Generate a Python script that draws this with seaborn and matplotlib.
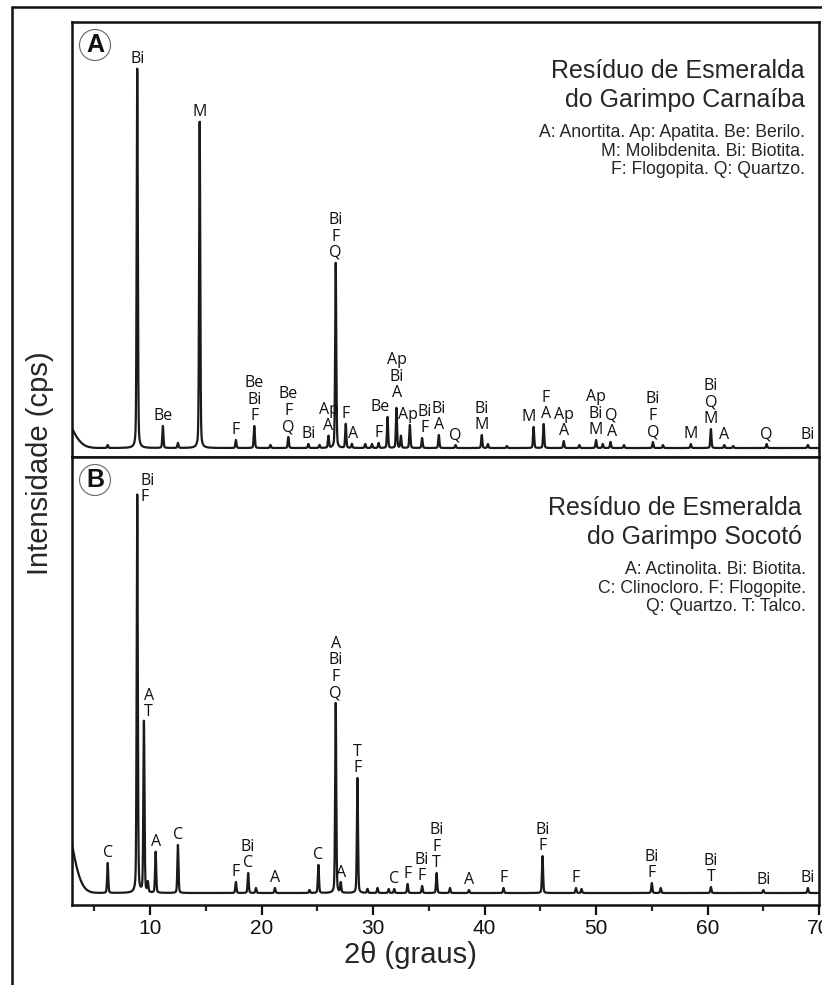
import numpy as np
import pandas as pd
import seaborn as sns
import matplotlib.pyplot as plt
from matplotlib.lines import Line2D
from matplotlib.ticker import MultipleLocator

# Resíduo do Garimpo Carnaíba (A): posição 2θ, altura do pico, fase
pos_a = [6.2, 8.85, 11.15, 12.5, 14.45, 17.7, 19.35, 20.8, 22.4, 24.2, 25.2, 26.0,
         26.65, 27.55, 28.1, 29.3, 29.9, 30.5, 31.3, 32.1, 32.5, 33.3, 34.4, 35.9,
         37.4, 39.75, 40.3, 42.0, 44.4, 45.3, 47.1, 48.5, 50.0, 50.6, 51.3, 52.5,
         55.1, 56.0, 58.5, 60.3, 61.5, 62.3, 65.3, 69.0]
alt_a = [3, 379, 22, 5, 326, 8, 22, 3, 11, 4, 3, 12,
         185, 24, 4, 4, 4, 5, 31, 40, 12, 23, 10, 13,
         3, 13, 4, 2, 21, 24, 7, 3, 8, 4, 6, 3,
         6, 3, 4, 19, 3, 2, 4, 3]
rot_a = ['', 'Bi', 'Be', '', 'M', 'F', 'Be\nBi\nF', '', 'Be\nF\nQ', 'Bi', '', 'Ap\nA',
         'Bi\nF\nQ', 'F', 'A', '', '', 'F', 'Be', 'Ap\nBi\nA', '', 'Ap', 'Bi\nF', 'Bi\nA',
         'Q', 'Bi\nM', '', '', 'M', 'F\nA', 'Ap\nA', '', 'Ap\nBi\nM', '', 'Q\nA', '',
         'Bi\nF\nQ', '', 'M', 'Bi\nQ\nM', 'A', '', 'Q', 'Bi']
fundo_a = [2.0, 34, 0.95]   # espalhamento em baixo ângulo: centro, altura, largura

# Resíduo do Garimpo Socotó (B)
pos_b = [6.2, 8.85, 9.45, 9.8, 10.5, 12.5, 17.7, 18.8, 19.5, 21.2, 24.3, 25.1,
         26.65, 27.1, 28.6, 29.5, 30.4, 31.4, 31.9, 33.1, 34.4, 35.7, 36.9, 38.6,
         41.7, 45.2, 48.2, 48.7, 55.0, 55.8, 60.3, 65.0, 69.0]
alt_b = [30, 398, 171, 10, 41, 48, 11, 20, 5, 5, 3, 28,
         190, 10, 115, 4, 5, 4, 4, 9, 7, 20, 5, 3,
         5, 37, 5, 4, 10, 5, 6, 3, 5]
rot_b = ['C', 'Bi\nF', 'A\nT', '', 'A', 'C', 'F', 'Bi\nC', '', 'A', '', 'C',
         'A\nBi\nF\nQ', 'A', 'T\nF', '', '', '', 'C', 'F', 'Bi\nF', 'Bi\nF\nT', '', 'A',
         'F', 'Bi\nF', 'F', '', 'Bi\nF', '', 'Bi\nT', 'Bi', 'Bi']
fundo_b = [2.0, 90, 0.9]

titulo_a = 'Resíduo de Esmeralda\ndo Garimpo Carnaíba'
legenda_a = 'A: Anortita. Ap: Apatita. Be: Berilo.\nM: Molibdenita. Bi: Biotita.\nF: Flogopita. Q: Quartzo.'
titulo_b = 'Resíduo de Esmeralda\ndo Garimpo Socotó'
legenda_b = 'A: Actinolita. Bi: Biotita.\nC: Clinocloro. F: Flogopite.\nQ: Quartzo. T: Talco.'

x = np.arange(3, 70.0001, 0.005)


def difratograma(pos, alt, fundo, fwhm=0.12, eta=0.3):
    h = fwhm / 2
    s = fwhm / 2.3548
    y = fundo[1] * np.exp(-(x - fundo[0]) ** 2 / (2 * fundo[2] ** 2))
    for p, a in zip(pos, alt):
        lor = 1 / (1 + ((x - p) / h) ** 2)
        gau = np.exp(-(x - p) ** 2 / (2 * s ** 2))
        y = y + a * (eta * lor + (1 - eta) * gau)
    return pd.DataFrame({'2theta': x, 'I': y})


sns.set_theme(style='white')
plt.rcParams['font.family'] = ['Liberation Sans', 'DejaVu Sans']

fig = plt.figure(figsize=(8.22, 9.85), dpi=100)
ax_a = fig.add_axes([0.0876, 0.536, 0.9088, 0.442])
ax_b = fig.add_axes([0.0876, 0.0812, 0.9088, 0.4548])

# moldura externa
fig.add_artist(Line2D([0.015, 0.015], [0, 0.9932], color='#111', lw=1.8))
fig.add_artist(Line2D([0.015, 1.0], [0.9932, 0.9932], color='#111', lw=1.8))

paineis = [(ax_a, pos_a, alt_a, rot_a, fundo_a, (-9, 426)),
           (ax_b, pos_b, alt_b, rot_b, fundo_b, (-12, 436))]
# deslocamentos dos rótulos (dx em graus, dy em cps, alinhamento)
ajuste = {('B', 1): (0.3, -12, 'left'), ('B', 2): (0.0, 0, 'left'),
          ('A', 18): (-0.7, 0, 'center'), ('A', 14): (0.1, 0, 'center'),
          ('A', 19): (0.05, 5, 'center'), ('A', 21): (-0.2, 0, 'center'),
          ('A', 22): (0.25, 0, 'center'), ('A', 28): (-0.45, 0, 'center'),
          ('A', 29): (0.2, 0, 'center'), ('A', 34): (0.1, 0, 'center')}

for nome, (ax, pos, alt, rot, fundo, lim) in zip('AB', paineis):
    df = difratograma(pos, alt, fundo)
    sns.lineplot(data=df, x='2theta', y='I', ax=ax, color='#1a1a1a', lw=1.6,
                 estimator=None, errorbar=None)
    for i, (p, a, r) in enumerate(zip(pos, alt, rot)):
        if not r:
            continue
        dx, dy, ha = ajuste.get((nome, i), (0, 0, 'center'))
        ax.text(p + dx, a + 2 + dy, r, ha=ha, va='bottom', fontsize=11.5,
                family='Open Sans', linespacing=1.03, color='#111')
    ax.set_xlim(3, 70)
    ax.set_ylim(*lim)
    ax.set_yticks([])
    ax.set_xlabel('')
    ax.set_ylabel('')
    for sp in ax.spines.values():
        sp.set_visible(True)
        sp.set_color('#111')
        sp.set_linewidth(1.8)

ax_a.tick_params(axis='x', bottom=False, labelbottom=False)
ax_b.xaxis.set_major_locator(MultipleLocator(10))
ax_b.xaxis.set_minor_locator(MultipleLocator(5))
ax_b.tick_params(axis='x', which='major', bottom=True, direction='out', length=7,
                 width=1.6, labelsize=15, pad=3, colors='#111')
ax_b.tick_params(axis='x', which='minor', bottom=True, direction='out', length=4,
                 width=1.6)

fig.text(0.979, 0.9132, titulo_a, ha='right', va='center', fontsize=18,
         linespacing=1.28, multialignment='right')
fig.text(0.979, 0.8467, legenda_a, ha='right', va='center', fontsize=12.7,
         linespacing=1.14, multialignment='right')
fig.text(0.9757, 0.4695, titulo_b, ha='right', va='center', fontsize=18,
         linespacing=1.28, multialignment='right')
fig.text(0.9805, 0.403, legenda_b, ha='right', va='center', fontsize=12.7,
         linespacing=1.14, multialignment='right')

for letra, yy in [('A', 0.9543), ('B', 0.5127)]:
    fig.text(0.1156, yy, letra, ha='center', va='center', fontsize=18,
             fontweight='bold', color='#111',
             bbox=dict(boxstyle='circle,pad=0.14', fc='white', ec='#666', lw=0.8))

fig.text(0.049, 0.53, 'Intensidade (cps)', rotation=90, ha='center', va='center',
         fontsize=21)
fig.text(0.499, 0.0305, '2θ (graus)', ha='center', va='center', fontsize=21)

fig.savefig('out.png', dpi=100)
